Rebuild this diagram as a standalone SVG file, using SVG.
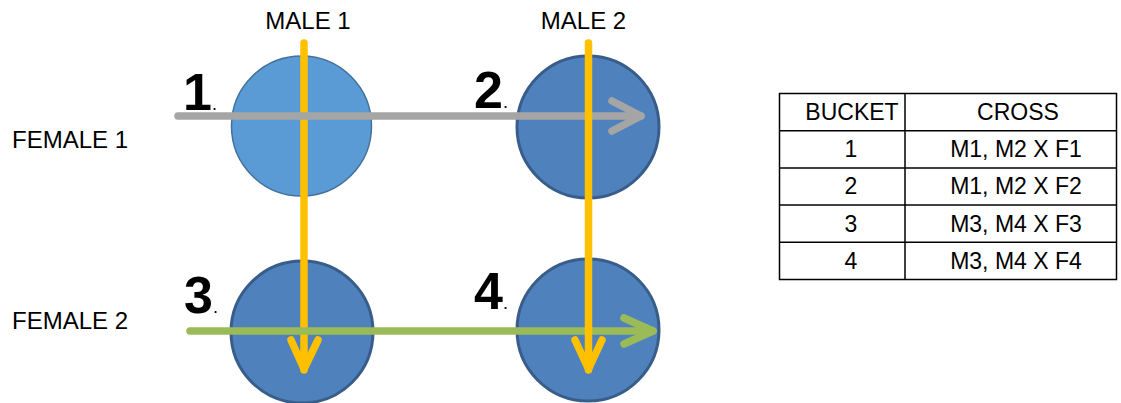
<svg xmlns="http://www.w3.org/2000/svg" width="1121" height="403" viewBox="0 0 1121 403">
<style>
.lbl{font-family:"Liberation Sans",Arial,sans-serif;font-size:24px;fill:#000}
.num{font-family:"Liberation Sans",Arial,sans-serif;font-size:52px;font-weight:bold;fill:#000}
.dot{font-size:18px;font-weight:normal}
.cell{font-family:"Liberation Sans",Arial,sans-serif;font-size:23px;fill:#000;text-anchor:middle}
.c1{fill:#5B9BD5;stroke:#41719C;stroke-width:1.5}
.c2{fill:#4F81BD;stroke:#385D8A;stroke-width:3}
.ln{fill:none;stroke-width:7.5;stroke-linecap:round;stroke-linejoin:round}
.y{stroke:#FFC000}
.g{stroke:#A5A5A5}
.gr{stroke:#9BBB59}
.tb{fill:none;stroke:#000;stroke-width:1.5}
</style>
<rect width="1121" height="403" fill="#fff"/>
<g id="node-1"><circle class="c1" cx="301.5" cy="126" r="70"/></g>
<g id="node-2"><circle class="c2" cx="588" cy="127" r="71"/></g>
<g id="node-3"><circle class="c2" cx="302" cy="332" r="71"/></g>
<g id="node-4"><circle class="c2" cx="588" cy="330" r="71"/></g>
<g id="connectors">
<line class="ln y" x1="304" y1="43" x2="304" y2="370" stroke-linecap="butt"/>
<polyline class="ln y" points="291,340 304,369 318,340"/>
<line class="ln g" x1="178" y1="116" x2="641" y2="116" stroke-linecap="butt"/>
<polyline class="ln g" points="612,101 641,116 612,131"/>
<line class="ln gr" x1="190" y1="331" x2="653" y2="331" stroke-linecap="butt"/>
<polyline class="ln gr" points="624,318 653,331 624,344"/>
<line class="ln y" x1="588.5" y1="43" x2="588.5" y2="370" stroke-linecap="butt"/>
<polyline class="ln y" points="575,340 588.5,369 602,340"/>
</g>
<g id="labels">
<text class="lbl" x="308" y="29" text-anchor="middle">MALE 1</text>
<text class="lbl" x="583.5" y="29" text-anchor="middle">MALE 2</text>
<text class="lbl" x="12" y="148">FEMALE 1</text>
<text class="lbl" x="12" y="329">FEMALE 2</text>
<text class="num" x="183" y="110">1<tspan class="dot">.</tspan></text>
<text class="num" x="474" y="108">2<tspan class="dot">.</tspan></text>
<text class="num" x="184" y="313">3<tspan class="dot">.</tspan></text>
<text class="num" x="474" y="309">4<tspan class="dot">.</tspan></text>
</g>
<g id="table">
<rect class="tb" x="779.5" y="93.5" width="337" height="186"/>
<line class="tb" x1="905" y1="93.5" x2="905" y2="279.5"/>
<line class="tb" x1="779.5" y1="130.7" x2="1116.5" y2="130.7"/>
<line class="tb" x1="779.5" y1="167.9" x2="1116.5" y2="167.9"/>
<line class="tb" x1="779.5" y1="205.1" x2="1116.5" y2="205.1"/>
<line class="tb" x1="779.5" y1="242.3" x2="1116.5" y2="242.3"/>
<text class="cell" x="852" y="120">BUCKET</text>
<text class="cell" x="1018" y="120">CROSS</text>
<text class="cell" x="851" y="157">1</text>
<text class="cell" x="1016" y="157">M1, M2 X F1</text>
<text class="cell" x="851" y="194">2</text>
<text class="cell" x="1016" y="194">M1, M2 X F2</text>
<text class="cell" x="851" y="231.5">3</text>
<text class="cell" x="1016" y="231.5">M3, M4 X F3</text>
<text class="cell" x="851" y="269">4</text>
<text class="cell" x="1016" y="269">M3, M4 X F4</text>
</g>
</svg>
